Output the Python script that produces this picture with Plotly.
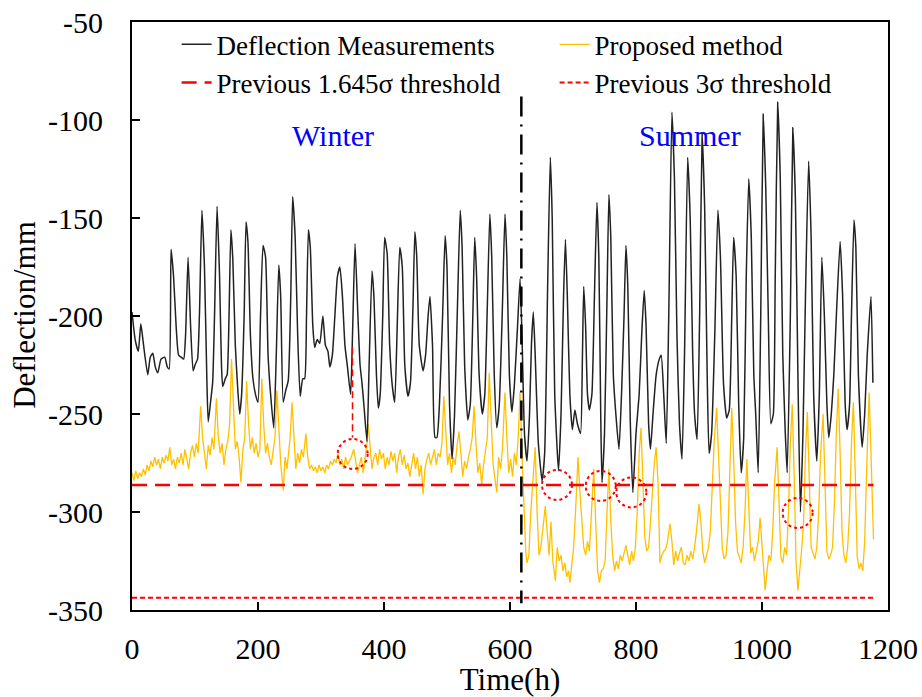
import plotly.graph_objects as go

# ---------------- data ----------------
black_t = [0, 5, 10, 14, 18, 25, 29, 33, 37, 41,
           46, 52, 56, 59, 62, 66, 70, 74, 78, 82,
           85, 89, 93, 97, 100, 104, 107, 111, 115, 119,
           121, 125, 128, 131, 135, 139, 142, 144, 148, 151,
           154, 157, 160, 164, 168, 171, 174, 178, 181, 184,
           188, 192, 196, 200, 204, 208, 212, 216, 220, 225,
           229, 233, 236, 240, 244, 248, 252, 255, 259, 263,
           267, 271, 274, 277, 280, 283, 287, 290, 294, 298,
           303, 307, 311, 314, 318, 322, 326, 330, 334, 338,
           342, 347, 350, 354, 358, 362, 365, 368, 373, 376,
           381, 384, 388, 391, 394, 398, 401, 405, 409, 413,
           417, 421, 425, 429, 433, 438, 442, 446, 449, 452,
           456, 462, 466, 470, 473, 477, 481, 484, 488, 493,
           497, 500, 504, 508, 512, 517, 521, 524, 528, 533,
           537, 541, 544, 547, 551, 556, 560, 564, 568, 571,
           575, 579, 583, 588, 592, 595, 599, 603, 607, 612,
           616, 619, 623, 627, 631, 634, 637, 640, 645, 651,
           655, 660, 664, 667, 671, 677, 681, 685, 688, 691,
           695, 699, 703, 707, 712, 715, 717, 720, 723, 726,
           730, 734, 738, 741, 744, 746, 750, 754, 757, 760,
           764, 768, 773, 777, 781, 784, 787, 791, 795, 800,
           805, 809, 813, 816, 820, 823, 827, 832, 837, 840,
           844, 848, 852, 857, 861, 865, 869, 873, 877, 882,
           886, 890, 893, 897, 901, 905, 909, 913, 916, 920,
           925, 930, 934, 939, 944, 948, 952, 955, 959, 963,
           967, 971, 975, 979, 983, 987, 990, 994, 998, 1002,
           1006, 1010, 1014, 1018, 1021, 1025, 1029, 1033, 1037, 1040,
           1045, 1049, 1053, 1057, 1061, 1065, 1069, 1074, 1078, 1082,
           1087, 1091, 1095, 1099, 1103, 1106, 1110, 1114, 1118, 1124,
           1128, 1132, 1135, 1139, 1142, 1146, 1149, 1153, 1159, 1163,
           1167, 1173, 1176]
black_v = [-198, -212, -218, -204, -214, -230, -221, -219, -226, -229,
           -222, -221, -226, -227, -166, -180, -205, -220, -221, -222,
           -210, -170, -205, -228, -225, -222, -200, -146, -175, -235,
           -254, -243, -234, -200, -144, -180, -225, -236, -232, -230,
           -200, -156, -171, -215, -238, -250, -240, -200, -152, -162,
           -210, -232, -240, -244, -200, -164, -170, -220, -240, -257,
           -220, -174, -190, -244, -238, -233, -190, -139, -160, -210,
           -241, -232, -232, -200, -156, -165, -205, -216, -212, -214,
           -200, -215, -218, -226, -220, -200, -180, -175, -190, -215,
           -226, -240, -210, -163, -195, -225, -234, -245, -264, -230,
           -177, -190, -230, -247, -240, -200, -160, -168, -215, -235,
           -244, -205, -165, -175, -225, -241, -234, -195, -157, -170,
           -215, -228, -220, -200, -190, -215, -262, -262, -245, -200,
           -159, -175, -245, -273, -250, -190, -146, -165, -225, -253,
           -245, -200, -160, -180, -230, -250, -240, -195, -148, -170,
           -230, -257, -245, -195, -148, -170, -230, -249, -235, -205,
           -181, -210, -260, -274, -250, -215, -198, -220, -265, -284,
           -270, -180, -119, -150, -240, -279, -250, -190, -161, -190,
           -240, -258, -248, -255, -260, -220, -185, -205, -240, -248,
           -240, -190, -142, -170, -250, -285, -260, -190, -138, -160,
           -230, -250, -268, -240, -200, -164, -185, -255, -290, -260,
           -240, -210, -187, -205, -255, -268, -250, -230, -222, -220,
           -240, -265, -200, -96, -130, -210, -255, -273, -220, -119,
           -150, -220, -250, -263, -200, -107, -145, -230, -270, -260,
           -210, -146, -170, -235, -252, -248, -200, -160, -180, -245,
           -280, -262, -180, -130, -160, -230, -250, -280, -200, -97,
           -135, -200, -255, -250, -180, -91, -130, -220, -260, -280,
           -200, -104, -140, -230, -300, -260, -190, -121, -160, -240,
           -274, -240, -170, -200, -245, -262, -250, -230, -200, -162,
           -190, -245, -258, -245, -200, -151, -165, -230, -267, -250,
           -220, -190, -234]

yellow_t = [0, 3, 6, 9, 12, 15, 18, 21, 24, 27,
            30, 33, 36, 39, 42, 45, 48, 51, 54, 57,
            60, 63, 66, 69, 72, 75, 78, 81, 84, 87,
            90, 93, 96, 99, 102, 105, 109, 112, 115, 118,
            121, 124, 127, 130, 134, 137, 140, 143, 146, 149,
            152, 155, 158, 161, 164, 167, 170, 173, 176, 179,
            182, 185, 188, 191, 194, 197, 200, 203, 206, 209,
            212, 215, 218, 221, 224, 227, 230, 233, 236, 240,
            243, 246, 249, 251, 254, 257, 260, 263, 266, 269,
            272, 276, 279, 282, 285, 288, 291, 294, 297, 300,
            303, 306, 309, 312, 315, 318, 321, 324, 327, 330,
            333, 336, 339, 342, 345, 348, 352, 355, 358, 361,
            364, 367, 370, 373, 375, 378, 381, 384, 387, 390,
            393, 396, 399, 402, 405, 408, 411, 414, 417, 420,
            423, 426, 429, 432, 435, 438, 441, 444, 447, 450,
            453, 456, 459, 462, 465, 468, 471, 474, 477, 480,
            483, 486, 489, 492, 495, 498, 501, 504, 507, 510,
            513, 516, 519, 522, 525, 528, 531, 534, 537, 540,
            543, 546, 549, 552, 555, 558, 561, 564, 567, 570,
            573, 576, 579, 582, 585, 588, 592, 595, 598, 601,
            604, 607, 610, 613, 616, 619, 622, 625, 627, 630,
            633, 637, 640, 643, 646, 649, 652, 656, 659, 662,
            665, 668, 672, 675, 678, 681, 684, 687, 690, 693,
            695, 698, 701, 704, 708, 711, 714, 717, 720, 723,
            726, 729, 733, 736, 739, 742, 745, 748, 751, 754,
            757, 760, 763, 766, 769, 772, 775, 778, 781, 784,
            787, 790, 793, 796, 799, 802, 805, 808, 811, 814,
            817, 820, 823, 826, 829, 832, 835, 838, 841, 844,
            847, 850, 854, 857, 860, 863, 866, 869, 872, 875,
            878, 881, 884, 887, 890, 893, 896, 900, 903, 906,
            909, 912, 915, 918, 921, 924, 928, 931, 934, 937,
            940, 943, 946, 949, 952, 955, 958, 961, 964, 967,
            970, 973, 976, 979, 982, 985, 988, 991, 994, 997,
            1000, 1003, 1005, 1008, 1011, 1014, 1017, 1020, 1024, 1027,
            1030, 1033, 1036, 1039, 1042, 1045, 1048, 1051, 1054, 1057,
            1060, 1063, 1066, 1069, 1072, 1075, 1078, 1081, 1084, 1087,
            1090, 1093, 1097, 1100, 1103, 1106, 1109, 1112, 1115, 1118,
            1121, 1124, 1127, 1130, 1133, 1136, 1139, 1142, 1145, 1148,
            1151, 1154, 1157, 1160, 1163, 1166, 1170, 1173, 1177]
yellow_v = [-280, -284, -279, -283, -280, -282, -278, -281, -276, -279,
            -274, -277, -272, -276, -273, -278, -272, -275, -271, -274,
            -267, -276, -273, -278, -272, -275, -270, -276, -268, -273,
            -278, -270, -266, -272, -265, -270, -246, -262, -270, -278,
            -266, -271, -262, -268, -242, -262, -270, -265, -276, -268,
            -264, -255, -222, -248, -268, -264, -272, -285, -268, -262,
            -233, -255, -268, -262, -270, -265, -272, -268, -232, -255,
            -270, -265, -272, -276, -268, -262, -238, -258, -275, -289,
            -272, -278, -266, -262, -244, -265, -278, -270, -275, -268,
            -272, -260, -272, -278, -276, -279, -277, -280, -276, -279,
            -277, -280, -276, -278, -274, -276, -273, -275, -270, -276,
            -273, -278, -272, -276, -274, -272, -268, -274, -280, -276,
            -272, -280, -272, -265, -255, -268, -278, -272, -270, -276,
            -268, -273, -270, -278, -272, -276, -269, -274, -270, -280,
            -272, -268, -276, -271, -278, -275, -282, -276, -270, -278,
            -272, -282, -276, -291, -278, -273, -270, -276, -272, -268,
            -276, -270, -272, -265, -241, -262, -276, -270, -280, -272,
            -276, -266, -259, -270, -282, -274, -278, -272, -268, -262,
            -246, -265, -280, -275, -286, -276, -270, -262, -229, -255,
            -275, -283, -290, -272, -278, -268, -239, -262, -280, -273,
            -282, -270, -276, -262, -239, -270, -300, -320, -326, -322,
            -300, -280, -267, -300, -322, -318, -310, -297, -310, -322,
            -305, -325, -335, -318, -325, -322, -330, -326, -333, -330,
            -336, -325, -318, -300, -272, -290, -305, -318, -322, -315,
            -320, -300, -278, -305, -330, -336, -330, -329, -325, -300,
            -278, -305, -322, -330, -325, -329, -322, -325, -320, -317,
            -322, -327, -320, -325, -318, -300, -270, -257, -285, -313,
            -320, -318, -305, -290, -275, -267, -285, -326, -322, -320,
            -319, -315, -306, -315, -327, -320, -325, -321, -318, -326,
            -327, -322, -325, -320, -324, -318, -310, -296, -305, -320,
            -326, -322, -318, -310, -290, -265, -247, -270, -300, -319,
            -324, -322, -310, -280, -247, -272, -305, -320, -323, -326,
            -318, -300, -273, -295, -321, -318, -325, -320, -315, -303,
            -318, -335, -340, -330, -322, -325, -310, -285, -267, -295,
            -323, -326, -318, -322, -300, -265, -245, -280, -325, -340,
            -330, -319, -305, -270, -249, -285, -318, -321, -324, -318,
            -300, -270, -250, -285, -320, -324, -322, -318, -295, -260,
            -237, -270, -310, -322, -326, -318, -300, -265, -244, -280,
            -322, -329, -326, -330, -315, -280, -239, -270, -314]

threshold_hours = [0, 1177]
threshold_1645 = -286.2
threshold_3sigma = -343.7

season_split_hour = 618
season_split_span = [-88, -346.5]
flag_hour = 350
flag_span = [-216, -262]

flagged_t = [350.3, 674.6, 744.0, 792.6, 1056.6]
flagged_v = [-270.4, -286.2, -286.7, -290.0, -300.5]

season_labels = ["Winter", "Summer"]
season_label_t = [319, 886]
season_label_v = [-108, -108]

x_tickvals = [0, 200, 400, 600, 800, 1000, 1200]
x_ticktext = ["0", "200", "400", "600", "800", "1000", "1200"]
y_tickvals = [-350, -300, -250, -200, -150, -100, -50]
y_ticktext = ["-350", "-300", "-250", "-200", "-150", "-100", "-50"]

assert len(black_t) == len(black_v), (len(black_t), len(black_v))
assert len(yellow_t) == len(yellow_v), (len(yellow_t), len(yellow_v))

SERIF = "Liberation Serif, Times New Roman, serif"

fig = go.Figure()
fig.add_trace(go.Scatter(
    x=yellow_t, y=yellow_v, mode="lines", name="Proposed method",
    line=dict(color="#FFC000", width=1.3), legend="legend2", legendrank=1))
fig.add_trace(go.Scatter(
    x=black_t, y=black_v, mode="lines", name="Deflection Measurements",
    line=dict(color="#222222", width=1.5, shape="spline", smoothing=0.5),
    legend="legend", legendrank=1))
fig.add_trace(go.Scatter(
    x=threshold_hours, y=[threshold_1645] * 2, mode="lines",
    name="Previous 1.645σ threshold",
    line=dict(color="#FF0000", width=2.5, dash="15px,8px"),
    legend="legend", legendrank=2))
fig.add_trace(go.Scatter(
    x=threshold_hours, y=[threshold_3sigma] * 2, mode="lines",
    name="Previous 3σ threshold",
    line=dict(color="#FF0000", width=2, dash="5px,3px"),
    legend="legend2", legendrank=2))

shapes = [
    dict(type="line", xref="x", yref="y", x0=season_split_hour, x1=season_split_hour,
         y0=season_split_span[0], y1=season_split_span[1],
         line=dict(color="black", width=2.5, dash="20px,8px,2px,8px")),
    dict(type="line", xref="x", yref="y", x0=flag_hour, x1=flag_hour,
         y0=flag_span[0], y1=flag_span[1],
         line=dict(color="#FF0000", width=1.5, dash="7px,4px")),
]
for t, v in zip(flagged_t, flagged_v):
    shapes.append(dict(type="circle", xref="x", yref="y", xsizemode="pixel", ysizemode="pixel",
                       xanchor=t, yanchor=v, x0=-15, x1=15, y0=-15, y1=15,
                       line=dict(color="#FF0000", width=2, dash="3px,3px")))

annotations = [dict(x=t, y=v, xref="x", yref="y", text=s, showarrow=False,
                    font=dict(family=SERIF, size=30, color="#0000FF"))
               for s, t, v in zip(season_labels, season_label_t, season_label_v)]
# y-axis title placed as a rotated annotation for exact positioning
annotations.append(dict(x=-0.1415, y=0.502, xref="paper", yref="paper",
                        text="Deflection/mm", textangle=-90, showarrow=False,
                        xanchor="center", yanchor="middle",
                        font=dict(family=SERIF, size=31, color="black")))

fig.update_layout(
    width=922, height=697,
    margin=dict(l=132, r=34, t=22, b=87),
    paper_bgcolor="white", plot_bgcolor="white",
    font=dict(family=SERIF, color="black"),
    shapes=shapes, annotations=annotations,
    legend=dict(x=0.059, y=1.003, xanchor="left", yanchor="top",
                bgcolor="rgba(0,0,0,0)", font=dict(family=SERIF, size=27, color="black"),
                tracegroupgap=0),
    legend2=dict(x=0.559, y=1.003, xanchor="left", yanchor="top",
                 bgcolor="rgba(0,0,0,0)", font=dict(family=SERIF, size=27, color="black"),
                 tracegroupgap=0),
)
fig.update_xaxes(
    range=[0, 1200], tickmode="array", tickvals=x_tickvals, ticktext=x_ticktext,
    ticks="inside", ticklen=8, tickwidth=2, automargin=False,
    tickcolor="black", showline=True, linecolor="black", linewidth=2, mirror=True,
    showgrid=False, zeroline=False, tickfont=dict(family=SERIF, size=30),
    ticklabelstandoff=11,
    title=dict(text="Time(h)", font=dict(family=SERIF, size=31), standoff=11))
fig.update_yaxes(
    range=[-350, -50], tickmode="array", tickvals=y_tickvals, ticktext=y_ticktext,
    ticks="inside", ticklen=8, tickwidth=2, automargin=False,
    tickcolor="black", showline=True, linecolor="black", linewidth=2, mirror=True,
    showgrid=False, zeroline=False, tickfont=dict(family=SERIF, size=30),
    ticklabelstandoff=21)

fig.write_html("out.html")
